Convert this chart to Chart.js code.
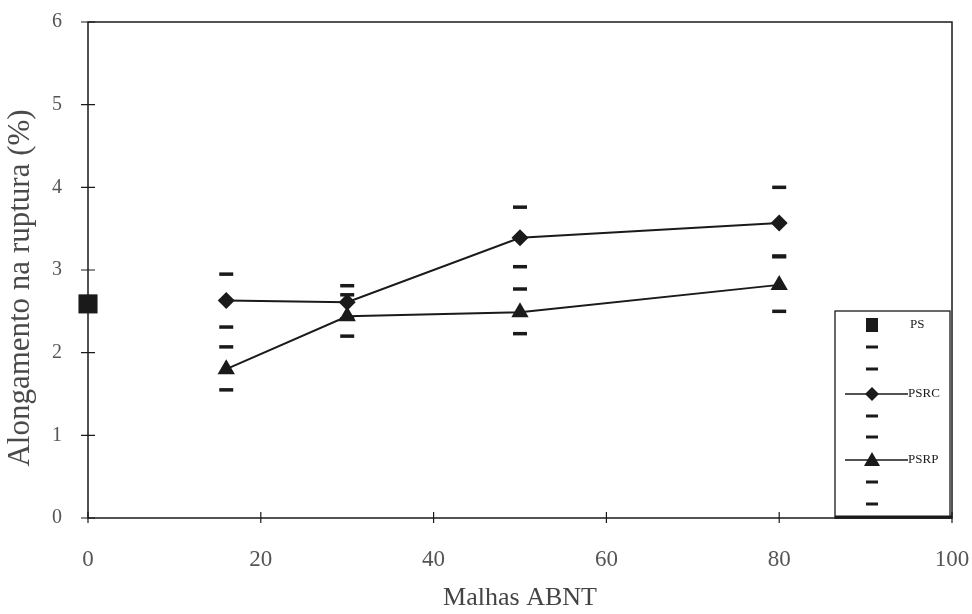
<!DOCTYPE html>
<html>
    <head>
        <meta http-equiv="Content-Type" content="text/html; charset=UTF-8">
        <title>Alongamento na ruptura</title>
        <script src="https://cdn.jsdelivr.net/npm/chart.js@4.4.1/dist/chart.umd.min.js"></script>
        <style type="text/css">
            html, body { margin: 0; padding: 0; background: #ffffff; }
            #wrap { width: 972px; height: 614px; }
        </style>
    </head>
    <body>
        <div id="wrap"><canvas id="chart" width="972" height="614"></canvas></div>

        <script>
            // values
            var psX = [0];
            var psY = [2.59];
            var meshX = [16, 30, 50, 80];
            var psrc = [2.63, 2.61, 3.39, 3.57];
            var psrcUpper = [2.95, 2.81, 3.76, 4.00];
            var psrcLower = [2.31, 2.41, 3.04, 3.17];
            var psrp = [1.80, 2.44, 2.49, 2.82];
            var psrpUpper = [2.07, 2.70, 2.77, 3.16];
            var psrpLower = [1.55, 2.20, 2.23, 2.50];
            var xTicks = [0, 20, 40, 60, 80, 100];
            var yTicks = [0, 1, 2, 3, 4, 5, 6];
            var yTitle = 'Alongamento na ruptura (%)';

            var ink = '#1a1a1a';
            var serif = '"Liberation Serif", "DejaVu Serif", serif';

            //turns two arrays into {x,y} points for chart.js
            function pairs(xs, ys){
                var out = [];
                for(var i=0;i<ys.length;i++){
                    out.push({x: xs[i], y: ys[i]});
                }
                return out;
            }

            function dashSet(ys){
                return {
                    data: pairs(meshX, ys),
                    showLine: false,
                    pointStyle: 'line',
                    pointRadius: 7,
                    pointHoverRadius: 7,
                    borderWidth: 3.5,
                    borderColor: ink,
                    clip: false,
                    order: 5
                };
            }

            // frame round the plot, tick marks crossing the axes, y title
            var framePlugin = {
                id: 'frame',
                beforeDatasetsDraw: function(chart){
                    var ctx = chart.ctx, a = chart.chartArea;
                    var xs = chart.scales.x, ys = chart.scales.y;
                    ctx.save();
                    ctx.strokeStyle = ink;
                    ctx.lineWidth = 1.5;
                    ctx.strokeRect(a.left, a.top, a.right - a.left, a.bottom - a.top);
                    ctx.lineWidth = 1.2;
                    ctx.beginPath();
                    yTicks.forEach(function(v){
                        var py = ys.getPixelForValue(v);
                        ctx.moveTo(a.left - 7, py);
                        ctx.lineTo(a.left + 7, py);
                    });
                    xTicks.forEach(function(v){
                        var px = xs.getPixelForValue(v);
                        ctx.moveTo(px, a.bottom - 6);
                        ctx.lineTo(px, a.bottom + 5);
                    });
                    ctx.stroke();

                    //y title sits a bit below the middle of the plot in the original
                    ctx.translate(21, (a.top + a.bottom) / 2 + 18);
                    ctx.rotate(-Math.PI / 2);
                    ctx.font = '31px ' + serif;
                    ctx.fillStyle = '#4a4a4a';
                    ctx.textAlign = 'center';
                    ctx.textBaseline = 'middle';
                    ctx.fillText(yTitle, 0, 0);
                    ctx.restore();
                }
            };

            // boxed legend in the lower right corner of the plot
            var legendPlugin = {
                id: 'boxLegend',
                afterDatasetsDraw: function(chart){
                    var ctx = chart.ctx, a = chart.chartArea;
                    var ox = a.right, oy = a.bottom;
                    var cx = ox - 80;
                    ctx.save();
                    ctx.fillStyle = '#ffffff';
                    ctx.fillRect(ox - 117, oy - 207, 115, 207);
                    ctx.strokeStyle = ink;
                    ctx.lineWidth = 1.3;
                    ctx.strokeRect(ox - 117, oy - 207, 115, 207);
                    ctx.lineWidth = 3;
                    ctx.beginPath();
                    ctx.moveTo(ox - 117, oy - 1);
                    ctx.lineTo(ox, oy - 1);
                    ctx.stroke();

                    ctx.fillStyle = ink;
                    ctx.strokeStyle = ink;
                    // PS
                    ctx.fillRect(cx - 6, oy - 200, 12, 14);
                    // dashes
                    [-171, -149, -102, -81, -36, -14].forEach(function(d){
                        ctx.fillRect(cx - 6, oy + d - 1.5, 12, 3);
                    });
                    // PSRC and PSRP lines
                    ctx.lineWidth = 1.3;
                    ctx.beginPath();
                    ctx.moveTo(ox - 107, oy - 124);
                    ctx.lineTo(ox - 44, oy - 124);
                    ctx.moveTo(ox - 107, oy - 58);
                    ctx.lineTo(ox - 44, oy - 58);
                    ctx.stroke();
                    ctx.beginPath();
                    ctx.moveTo(cx, oy - 131);
                    ctx.lineTo(cx + 7, oy - 124);
                    ctx.lineTo(cx, oy - 117);
                    ctx.lineTo(cx - 7, oy - 124);
                    ctx.closePath();
                    ctx.fill();
                    ctx.beginPath();
                    ctx.moveTo(cx, oy - 66);
                    ctx.lineTo(cx + 8, oy - 52);
                    ctx.lineTo(cx - 8, oy - 52);
                    ctx.closePath();
                    ctx.fill();

                    ctx.font = '13px ' + serif;
                    ctx.textBaseline = 'middle';
                    ctx.textAlign = 'left';
                    ctx.fillText('PS', ox - 42, oy - 193);
                    ctx.fillText('PSRC', ox - 44, oy - 124);
                    ctx.fillText('PSRP', ox - 44, oy - 58);
                    ctx.restore();
                }
            };

            var chart = new Chart(document.getElementById('chart').getContext('2d'), {
                type: 'line',
                data: {
                    datasets: [
                        {
                            label: 'PS',
                            data: pairs(psX, psY),
                            showLine: false,
                            pointStyle: 'rect',
                            pointRadius: 13.5,
                            pointHoverRadius: 13.5,
                            backgroundColor: ink,
                            borderColor: ink,
                            borderWidth: 0,
                            clip: false,
                            order: 1
                        },
                        {
                            label: 'PSRC',
                            data: pairs(meshX, psrc),
                            borderColor: ink,
                            backgroundColor: ink,
                            borderWidth: 2,
                            pointStyle: 'rectRot',
                            pointRadius: 8.5,
                            pointHoverRadius: 8.5,
                            pointBorderWidth: 0,
                            tension: 0,
                            clip: false,
                            order: 2
                        },
                        {
                            label: 'PSRP',
                            data: pairs(meshX, psrp),
                            borderColor: ink,
                            backgroundColor: ink,
                            borderWidth: 2,
                            pointStyle: 'triangle',
                            pointRadius: 10,
                            pointHoverRadius: 10,
                            pointBorderWidth: 0,
                            tension: 0,
                            clip: false,
                            order: 1
                        },
                        dashSet(psrcUpper),
                        dashSet(psrcLower),
                        dashSet(psrpUpper),
                        dashSet(psrpLower)
                    ]
                },
                options: {
                    responsive: false,
                    animation: false,
                    events: [],
                    layout: { padding: { top: 22, right: 20, left: 0, bottom: 0 } },
                    plugins: {
                        legend: { display: false },
                        tooltip: { enabled: false }
                    },
                    scales: {
                        x: {
                            type: 'linear',
                            min: 0,
                            max: 100,
                            afterBuildTicks: function(scale){
                                scale.ticks = xTicks.map(function(v){ return {value: v}; });
                            },
                            afterFit: function(scale){
                                scale.height = 96;
                                scale.paddingLeft = 0;
                                scale.paddingRight = 0;
                            },
                            grid: { display: false, drawTicks: false },
                            border: { display: false },
                            ticks: {
                                padding: 28,
                                color: '#555555',
                                font: { family: serif, size: 23 }
                            },
                            title: {
                                display: true,
                                text: 'Malhas ABNT',
                                color: '#444444',
                                padding: { top: -6, bottom: 0 },
                                font: { family: serif, size: 26 }
                            }
                        },
                        y: {
                            type: 'linear',
                            min: 0,
                            max: 6,
                            afterBuildTicks: function(scale){
                                scale.ticks = yTicks.map(function(v){ return {value: v}; });
                            },
                            afterFit: function(scale){
                                scale.width = 88;
                                scale.paddingTop = 0;
                                scale.paddingBottom = 0;
                            },
                            grid: { display: false, drawTicks: false },
                            border: { display: false },
                            ticks: {
                                padding: 26,
                                color: '#555555',
                                font: { family: serif, size: 20 }
                            },
                            title: { display: false }
                        }
                    }
                },
                plugins: [framePlugin, legendPlugin]
            });
        </script>
    </body>
</html>
